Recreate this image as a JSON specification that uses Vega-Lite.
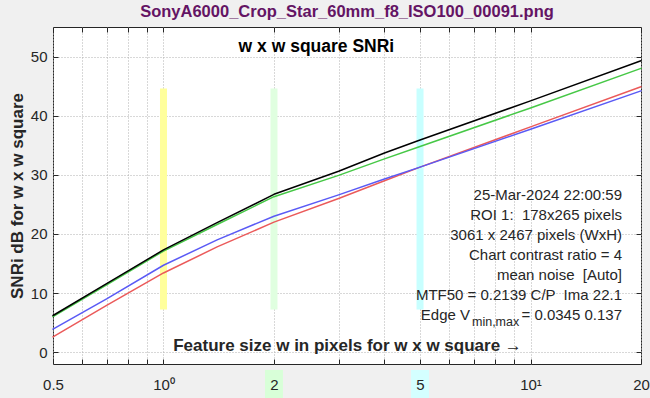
{
  "$schema": "https://vega.github.io/schema/vega-lite/v6.json",
  "width": 588,
  "height": 337,
  "autosize": {"type": "none"},
  "padding": {"left": 53, "top": 27, "right": 9, "bottom": 34},
  "background": "#f0f0f0",
  "data": {"values": [{}]},
  "title": {
    "text": "SonyA6000_Crop_Star_60mm_f8_ISO100_00091.png",
    "color": "#641464",
    "fontSize": 16.5,
    "fontWeight": "bold",
    "font": "Liberation Sans",
    "anchor": "middle",
    "offset": 6
  },
  "config": {
    "view": {"fill": "white", "stroke": "#262626", "strokeWidth": 1},
    "font": "Liberation Sans",
    "axis": {
      "domain": false,
      "labelFont": "Liberation Sans",
      "labelFontSize": 15,
      "labelColor": "#262626",
      "tickColor": "#262626",
      "tickSize": -5,
      "gridColor": "#b0b0b0",
      "gridDash": [1, 2],
      "gridWidth": 1,
      "titleFont": "Liberation Sans",
      "titleColor": "#262626"
    }
  },
  "resolve": {"axis": {"x": "independent", "y": "independent"}},
  "layer": [
    {
      "mark": {"type": "rule", "strokeWidth": 7, "color": "#ffff9c"},
      "encoding": {
        "x": {"datum": 1, "type": "quantitative", "scale": {"type": "log", "domain": [0.5, 20], "nice": false},
          "axis": {"orient": "top", "values": [0.5, 0.6, 0.7, 0.8, 0.9, 1, 2, 3, 4, 5, 6, 7, 8, 9, 10, 20], "grid": true, "labels": false, "title": null}},
        "y": {"datum": 7.2, "type": "quantitative", "scale": {"domain": [-2, 55], "nice": false, "zero": false},
          "axis": {"orient": "right", "values": [0, 10, 20, 30, 40, 50], "grid": true, "labels": false, "title": null}},
        "y2": {"datum": 44.6}
      }
    },
    {
      "mark": {"type": "rule", "strokeWidth": 7, "color": "#e0ffe0"},
      "encoding": {
        "x": {"datum": 2, "type": "quantitative", "scale": {"type": "log", "domain": [0.5, 20], "nice": false}, "axis": null},
        "y": {"datum": 7.2, "type": "quantitative", "scale": {"domain": [-2, 55], "nice": false, "zero": false}, "axis": null},
        "y2": {"datum": 44.6}
      }
    },
    {
      "mark": {"type": "rule", "strokeWidth": 7, "color": "#c8ffff"},
      "encoding": {
        "x": {"datum": 5, "type": "quantitative", "scale": {"type": "log", "domain": [0.5, 20], "nice": false}, "axis": null},
        "y": {"datum": 7.2, "type": "quantitative", "scale": {"domain": [-2, 55], "nice": false, "zero": false}, "axis": null},
        "y2": {"datum": 44.6}
      }
    },
    {
      "mark": {"type": "rule", "strokeWidth": 18, "color": "#d8ffd8"},
      "encoding": {
        "x": {"datum": 2, "type": "quantitative", "scale": {"type": "log", "domain": [0.5, 20], "nice": false}, "axis": null},
        "y": {"datum": -3.0, "type": "quantitative", "scale": {"domain": [-2, 55], "nice": false, "zero": false}, "axis": null},
        "y2": {"datum": -7.8}
      }
    },
    {
      "mark": {"type": "rule", "strokeWidth": 18, "color": "#d4ffff"},
      "encoding": {
        "x": {"datum": 5, "type": "quantitative", "scale": {"type": "log", "domain": [0.5, 20], "nice": false}, "axis": null},
        "y": {"datum": -3.0, "type": "quantitative", "scale": {"domain": [-2, 55], "nice": false, "zero": false}, "axis": null},
        "y2": {"datum": -7.8}
      }
    },
    {
      "data": {"values": [
        {"w": 0.5, "ch": "R", "snr": 2.6}, {"w": 0.7, "ch": "R", "snr": 7.9}, {"w": 1, "ch": "R", "snr": 13.4}, {"w": 1.4, "ch": "R", "snr": 17.8}, {"w": 2, "ch": "R", "snr": 22.0}, {"w": 3, "ch": "R", "snr": 26.0}, {"w": 4, "ch": "R", "snr": 29.0}, {"w": 5, "ch": "R", "snr": 31.3}, {"w": 10, "ch": "R", "snr": 38.1}, {"w": 20, "ch": "R", "snr": 44.9},
        {"w": 0.5, "ch": "B", "snr": 3.9}, {"w": 0.7, "ch": "B", "snr": 9.0}, {"w": 1, "ch": "B", "snr": 14.7}, {"w": 1.4, "ch": "B", "snr": 19.0}, {"w": 2, "ch": "B", "snr": 23.0}, {"w": 3, "ch": "B", "snr": 26.6}, {"w": 4, "ch": "B", "snr": 29.3}, {"w": 5, "ch": "B", "snr": 31.3}, {"w": 10, "ch": "B", "snr": 37.7}, {"w": 20, "ch": "B", "snr": 44.2},
        {"w": 0.5, "ch": "G", "snr": 6.0}, {"w": 0.7, "ch": "G", "snr": 11.4}, {"w": 1, "ch": "G", "snr": 17.1}, {"w": 1.4, "ch": "G", "snr": 21.6}, {"w": 2, "ch": "G", "snr": 26.3}, {"w": 3, "ch": "G", "snr": 29.9}, {"w": 4, "ch": "G", "snr": 32.7}, {"w": 5, "ch": "G", "snr": 34.8}, {"w": 10, "ch": "G", "snr": 41.3}, {"w": 20, "ch": "G", "snr": 48.0},
        {"w": 0.5, "ch": "Y", "snr": 6.2}, {"w": 0.7, "ch": "Y", "snr": 11.6}, {"w": 1, "ch": "Y", "snr": 17.3}, {"w": 1.4, "ch": "Y", "snr": 21.9}, {"w": 2, "ch": "Y", "snr": 26.7}, {"w": 3, "ch": "Y", "snr": 30.6}, {"w": 4, "ch": "Y", "snr": 33.7}, {"w": 5, "ch": "Y", "snr": 35.9}, {"w": 10, "ch": "Y", "snr": 42.5}, {"w": 20, "ch": "Y", "snr": 49.3}
      ]},
      "mark": {"type": "line", "strokeCap": "round", "strokeJoin": "round"},
      "encoding": {
        "x": {"field": "w", "type": "quantitative", "scale": {"type": "log", "domain": [0.5, 20], "nice": false},
          "axis": {
            "orient": "bottom",
            "values": [0.5, 0.6, 0.7, 0.8, 0.9, 1, 2, 3, 4, 5, 6, 7, 8, 9, 10, 20],
            "grid": false,
            "zindex": 1,
            "labelPadding": 18,
            "labelFlush": false,
            "labelOverlap": false,
            "labelExpr": "datum.value == 1 ? '10⁰' : datum.value == 10 ? '10¹' : datum.value == 0.5 ? '0.5' : datum.value == 2 ? '2' : datum.value == 5 ? '5' : datum.value == 20 ? '20' : ''",
            "title": "Feature size w in pixels for w x w square →",
            "titleFontSize": 17,
            "titleFontWeight": "bold",
            "titleY": -14,
            "titleX": 294,
            "titleAlign": "center",
            "titleBaseline": "alphabetic"
          }},
        "y": {"field": "snr", "type": "quantitative", "scale": {"domain": [-2, 55], "nice": false, "zero": false},
          "axis": {
            "orient": "left",
            "values": [0, 10, 20, 30, 40, 50],
            "grid": false,
            "labelPadding": 11,
            "title": "SNRi dB for w x w square",
            "titleFontSize": 17,
            "titleFontWeight": "bold",
            "titleAngle": -90,
            "titleX": -36,
            "titleY": 168.5,
            "titleAlign": "center",
            "titleBaseline": "middle"
          }},
        "color": {"field": "ch", "type": "nominal", "scale": {"domain": ["R", "B", "G", "Y"], "range": ["#eb5a5a", "#5a5af5", "#46c846", "#000000"]}, "legend": null},
        "size": {"field": "ch", "type": "nominal", "scale": {"domain": ["R", "B", "G", "Y"], "range": [1.5, 1.5, 1.5, 2.9]}, "legend": null},
        "order": {"field": "w", "type": "quantitative"}
      }
    },
    {
      "mark": {"type": "text", "fontSize": 17.5, "fontWeight": "bold", "color": "#000000", "align": "center", "baseline": "middle"},
      "encoding": {
        "x": {"datum": 2.61, "type": "quantitative", "scale": {"type": "log", "domain": [0.5, 20], "nice": false}, "axis": null},
        "y": {"datum": 51.6, "type": "quantitative", "scale": {"domain": [-2, 55], "nice": false, "zero": false}, "axis": null},
        "text": {"value": "w x w square SNRi"}
      }
    },
    {
      "mark": {"type": "text", "fontSize": 15, "color": "#262626", "align": "right", "baseline": "alphabetic", "lineHeight": 20, "dx": -19},
      "encoding": {
        "x": {"datum": 20, "type": "quantitative", "scale": {"type": "log", "domain": [0.5, 20], "nice": false}, "axis": null},
        "y": {"datum": 25.74, "type": "quantitative", "scale": {"domain": [-2, 55], "nice": false, "zero": false}, "axis": null},
        "text": {"value": ["25-Mar-2024 22:00:59", "ROI 1: \u00a0178x265 pixels", "3061 x 2467 pixels (WxH)", "Chart contrast ratio = 4", "mean noise \u00a0[Auto]", "MTF50 = 0.2139 C/P \u00a0Ima 22.1"]}
      }
    },
    {
      "mark": {"type": "text", "fontSize": 15, "color": "#262626", "align": "right", "baseline": "alphabetic", "dx": -19},
      "encoding": {
        "x": {"datum": 20, "type": "quantitative", "scale": {"type": "log", "domain": [0.5, 20], "nice": false}, "axis": null},
        "y": {"datum": 5.45, "type": "quantitative", "scale": {"domain": [-2, 55], "nice": false, "zero": false}, "axis": null},
        "text": {"value": "= 0.0345 0.137"}
      }
    },
    {
      "mark": {"type": "text", "fontSize": 15, "color": "#262626", "align": "right", "baseline": "alphabetic", "dx": -171},
      "encoding": {
        "x": {"datum": 20, "type": "quantitative", "scale": {"type": "log", "domain": [0.5, 20], "nice": false}, "axis": null},
        "y": {"datum": 5.45, "type": "quantitative", "scale": {"domain": [-2, 55], "nice": false, "zero": false}, "axis": null},
        "text": {"value": "Edge V"}
      }
    },
    {
      "mark": {"type": "text", "fontSize": 12.5, "color": "#262626", "align": "left", "baseline": "alphabetic", "dx": -169},
      "encoding": {
        "x": {"datum": 20, "type": "quantitative", "scale": {"type": "log", "domain": [0.5, 20], "nice": false}, "axis": null},
        "y": {"datum": 4.35, "type": "quantitative", "scale": {"domain": [-2, 55], "nice": false, "zero": false}, "axis": null},
        "text": {"value": "min,max"}
      }
    }
  ]
}
